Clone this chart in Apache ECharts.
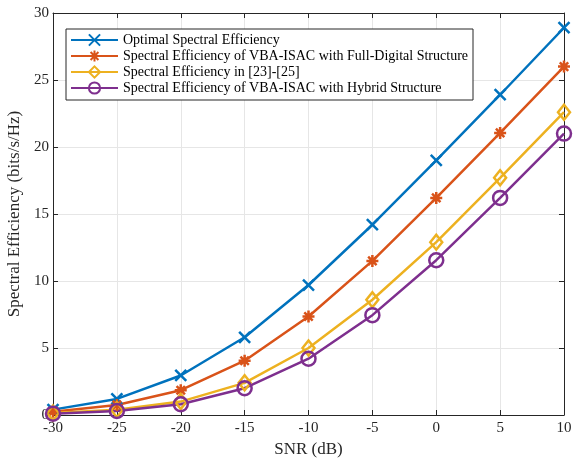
<!DOCTYPE html>
<html>
<head>
<meta charset="utf-8">
<script src="https://cdn.jsdelivr.net/npm/echarts@6/dist/echarts.min.js"></script>
<style>
  html, body { margin: 0; padding: 0; background: #fff; }
  #chart { width: 573px; height: 460px; }
</style>
</head>
<body>
<div id="chart"></div>
<script>
// data
const snr = [-30, -25, -20, -15, -10, -5, 0, 5, 10];
const optimal = [0.4, 1.2, 2.95, 5.8, 9.7, 14.2, 19.0, 23.9, 28.9];
const fullDigital = [0.25, 0.75, 1.85, 4.05, 7.35, 11.5, 16.2, 21.05, 26.0];
const refMethod = [0.15, 0.4, 1.0, 2.4, 5.0, 8.6, 12.9, 17.7, 22.6];
const hybrid = [0.1, 0.3, 0.8, 2.0, 4.2, 7.45, 11.55, 16.2, 21.0];

const seriesNames = [
  'Optimal Spectral Efficiency',
  'Spectral Efficiency of VBA-ISAC with Full-Digital Structure',
  'Spectral Efficiency in [23]-[25]',
  'Spectral Efficiency of VBA-ISAC with Hybrid Structure'
];
const colors = ['#0072BD', '#D95319', '#EDB120', '#7E2F8E'];

const crossPath = 'path://M0,0L10,10M10,0L0,10';
const starPath = 'path://M5,0L5,10M0,5L10,5M1.5,1.5L8.5,8.5M8.5,1.5L1.5,8.5';
const diamondPath = 'path://M5,0L10,6L5,12L0,6Z';
const circlePath = 'path://M10,5A5,5,0,1,1,0,5A5,5,0,1,1,10,5Z';

const font = 'Liberation Serif, Times New Roman, serif';
const axisColor = '#262626';

const chart = echarts.init(document.getElementById('chart'));

function makeSeries(name, data, color, symbol, size) {
  return {
    name: name,
    type: 'line',
    data: snr.map((x, i) => [x, data[i]]),
    symbol: symbol,
    symbolSize: size,
    showAllSymbol: true,
    lineStyle: { color: color, width: 2.5 },
    itemStyle: { color: 'rgba(0,0,0,0)', borderColor: color, borderWidth: 2.5 },
    emphasis: { disabled: true },
    animation: false
  };
}

// box axes (top / right) drawn like MATLAB "box on"
const boxAxis = {
  axisLine: { show: true, onZero: false, lineStyle: { color: axisColor, width: 1 } },
  axisTick: { show: true, inside: true, length: 5, lineStyle: { color: axisColor } },
  axisLabel: { show: false },
  splitLine: { show: false }
};

const option = {
  animation: false,
  grid: { left: 53, right: 9, top: 13, bottom: 45, outerBoundsMode: 'none', containLabel: false },
  legend: {
    orient: 'vertical',
    left: 66,
    top: 29,
    padding: [4, 5, 5, 4],
    itemGap: 2,
    itemWidth: 47,
    itemHeight: 14,
    backgroundColor: '#fff',
    borderColor: axisColor,
    borderWidth: 1,
    borderRadius: 0,
    textStyle: { fontFamily: font, fontSize: 14, color: '#000' },
    data: seriesNames
  },
  xAxis: [{
    type: 'value',
    min: -30, max: 10, interval: 5,
    name: 'SNR (dB)',
    nameLocation: 'middle',
    nameGap: 18,
    nameTextStyle: { fontFamily: font, fontSize: 17, color: axisColor },
    axisLine: { show: true, onZero: false, lineStyle: { color: axisColor, width: 1 } },
    axisTick: { show: true, inside: true, length: 5, lineStyle: { color: axisColor } },
    axisLabel: { fontFamily: font, fontSize: 15, color: axisColor, margin: 6 },
    splitLine: { show: true, lineStyle: { color: '#e6e6e6', width: 1 } }
  }, Object.assign({
    type: 'value',
    position: 'top',
    min: -30, max: 10, interval: 5
  }, boxAxis)],
  yAxis: [{
    type: 'value',
    min: 0, max: 30, interval: 5,
    name: 'Spectral Efficiency (bits/s/Hz)',
    nameLocation: 'middle',
    nameGap: 23,
    nameTextStyle: { fontFamily: font, fontSize: 17, color: axisColor },
    axisLine: { show: true, onZero: false, lineStyle: { color: axisColor, width: 1 } },
    axisTick: { show: true, inside: true, length: 5, lineStyle: { color: axisColor } },
    axisLabel: { fontFamily: font, fontSize: 15, color: axisColor, margin: 4 },
    splitLine: { show: true, lineStyle: { color: '#e6e6e6', width: 1 } }
  }, Object.assign({
    type: 'value',
    position: 'right',
    min: 0, max: 30, interval: 5
  }, boxAxis)],
  series: [
    makeSeries(seriesNames[0], optimal, colors[0], crossPath, 11),
    makeSeries(seriesNames[1], fullDigital, colors[1], starPath, 12),
    makeSeries(seriesNames[2], refMethod, colors[2], diamondPath, [12, 15]),
    makeSeries(seriesNames[3], hybrid, colors[3], circlePath, 14)
  ]
};

chart.setOption(option);
</script>
</body>
</html>
